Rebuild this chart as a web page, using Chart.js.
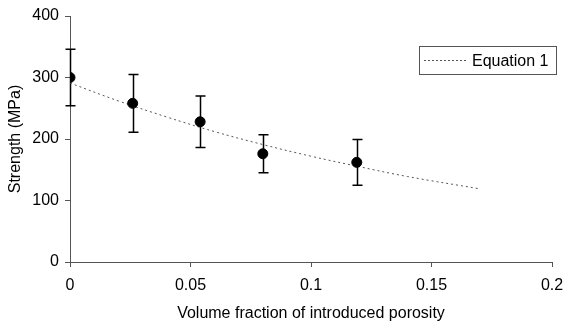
<!DOCTYPE html>
<html>
<head>
<meta charset="utf-8">
<script src="https://cdn.jsdelivr.net/npm/chart.js@4.4.0/dist/chart.umd.min.js"></script>
<style>
  html, body { margin: 0; padding: 0; background: #fff; }
  #wrap { width: 565px; height: 323px; }
</style>
</head>
<body>
<div id="wrap"><canvas id="strengthChart" width="565" height="323"></canvas></div>
<script>
// measured points (volume fraction vs strength, MPa) with +/- error
const porosity = [0, 0.026, 0.054, 0.08, 0.119];
const strength = [300, 258, 228, 176, 162];
const strengthErr = [46, 47, 42, 31, 37];

// "Equation 1" curve
const eqX = [0, 0.02, 0.04, 0.06, 0.08, 0.10, 0.12, 0.14, 0.17];
const eqY = [291, 262, 236, 212, 191, 172, 155, 139, 119];

const xTicks = [0, 0.05, 0.1, 0.15, 0.2];
const xTickLabels = ['0', '0.05', '0.1', '0.15', '0.2'];
const yTicks = [0, 100, 200, 300, 400];

const FONT = "'Liberation Sans', Arial, sans-serif";
const AXIS = '#555';

// error bars with caps
const errorBars = {
    id: 'errorBars',
    beforeDatasetsDraw(chart) {
        const { ctx, scales: { x, y } } = chart;
        ctx.save();
        ctx.strokeStyle = '#000';
        ctx.lineWidth = 1.5;
        porosity.forEach((p, i) => {
            const px = Math.round(x.getPixelForValue(p)) + 0.5;
            const top = y.getPixelForValue(strength[i] + strengthErr[i]);
            const bot = y.getPixelForValue(strength[i] - strengthErr[i]);
            ctx.beginPath();
            ctx.moveTo(px, top); ctx.lineTo(px, bot);
            ctx.moveTo(px - 5, top); ctx.lineTo(px + 5, top);
            ctx.moveTo(px - 5, bot); ctx.lineTo(px + 5, bot);
            ctx.stroke();
        });
        ctx.restore();
    }
};

// boxed legend, top right of the plot
const boxLegend = {
    id: 'boxLegend',
    afterDraw(chart) {
        const ctx = chart.ctx;
        const bx = 419.5, by = 46.5, bw = 137, bh = 28;
        ctx.save();
        ctx.fillStyle = '#fff';
        ctx.fillRect(bx, by, bw, bh);
        ctx.strokeStyle = '#555';
        ctx.lineWidth = 1;
        ctx.strokeRect(bx, by, bw, bh);
        ctx.setLineDash([2, 2]);
        ctx.beginPath();
        ctx.moveTo(424, by + 14); ctx.lineTo(468, by + 14);
        ctx.stroke();
        ctx.setLineDash([]);
        ctx.fillStyle = '#000';
        ctx.font = '16px ' + FONT;
        ctx.textBaseline = 'middle';
        ctx.fillText(chart.data.datasets[1].label, 472, by + 15);
        ctx.restore();
    }
};

new Chart(document.getElementById('strengthChart'), {
    type: 'scatter',
    data: {
        datasets: [{
            label: 'Measured',
            data: porosity.map((p, i) => ({ x: p, y: strength[i] })),
            backgroundColor: '#000',
            borderColor: '#000',
            pointRadius: 5,
            pointHoverRadius: 5,
            showLine: false,
            order: 1
        }, {
            label: 'Equation 1',
            data: eqX.map((v, i) => ({ x: v, y: eqY[i] })),
            borderColor: '#555',
            borderWidth: 1,
            borderDash: [2, 3],
            pointRadius: 0,
            showLine: true,
            tension: 0.4,
            order: 2
        }]
    },
    options: {
        responsive: false,
        animation: false,
        layout: { padding: { left: 0, top: 16, right: 13, bottom: 0 } },
        plugins: {
            legend: { display: false },
            tooltip: { enabled: false }
        },
        scales: {
            x: {
                type: 'linear',
                min: 0, max: 0.2,
                afterBuildTicks: s => { s.ticks = xTicks.map(v => ({ value: v })); },
                afterFit: s => { s.height = 61; s.paddingLeft = 0; s.paddingRight = 0; },
                border: { display: true, color: AXIS, width: 1 },
                grid: { drawOnChartArea: false, drawTicks: true, tickLength: 5, color: AXIS },
                ticks: {
                    color: '#000', font: { family: FONT, size: 16 }, padding: 9, maxRotation: 0,
                    callback: (v, i) => xTickLabels[i]
                },
                title: { display: true, text: 'Volume fraction of introduced porosity', color: '#000',
                         font: { family: FONT, size: 16 }, padding: { top: 4, bottom: 0 } }
            },
            y: {
                min: 0, max: 400,
                afterBuildTicks: s => { s.ticks = yTicks.map(v => ({ value: v })); },
                afterFit: s => { s.width = 70; s.paddingTop = 0; s.paddingBottom = 0; },
                border: { display: true, color: AXIS, width: 1 },
                grid: { drawOnChartArea: false, drawTicks: true, tickLength: 5, color: AXIS },
                ticks: { color: '#000', font: { family: FONT, size: 16 }, padding: 6 },
                title: { display: true, text: 'Strength (MPa)', color: '#000',
                         font: { family: FONT, size: 16 }, padding: { top: 6, bottom: 2 } }
            }
        }
    },
    plugins: [errorBars, boxLegend]
});
</script>
</body>
</html>
